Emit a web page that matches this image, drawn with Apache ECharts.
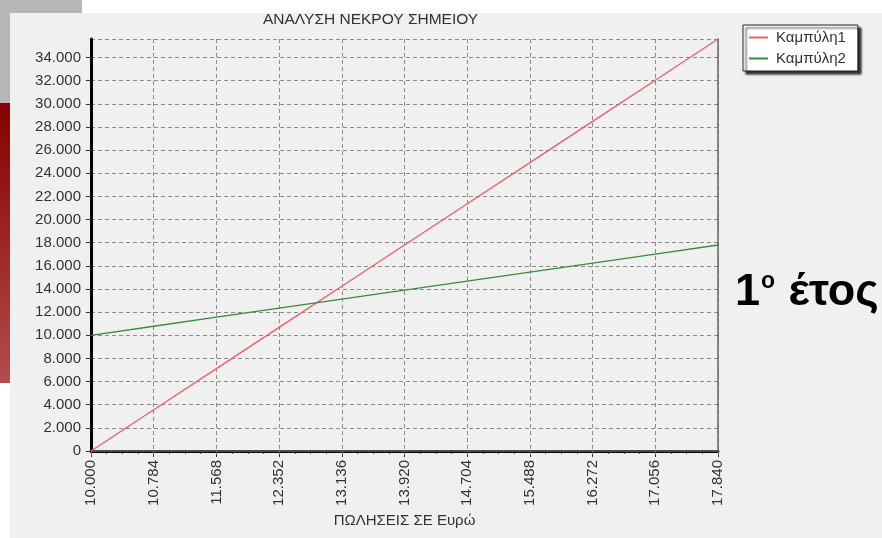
<!DOCTYPE html>
<html>
<head>
<meta charset="utf-8">
<script src="https://cdn.jsdelivr.net/npm/echarts@6/dist/echarts.min.js"></script>
<style>
  html, body { margin: 0; padding: 0; background: #fff; }
  #main { width: 882px; height: 538px; }
</style>
</head>
<body>
<div id="main"></div>
<script>
// πωλήσεις (ευρώ) στα σημεία του άξονα x
const sales = [10000, 10784, 11568, 12352, 13136, 13920, 14704, 15488, 16272, 17056, 17840];
// Καμπύλη1 (κόκκινη) και Καμπύλη2 (πράσινη)
const curve1 = [0, 3560, 7120, 10680, 14240, 17800, 21360, 24920, 28480, 32040, 35600];
const curve2 = [10000, 10780, 11560, 12340, 13120, 13900, 14680, 15460, 16240, 17020, 17800];
const seriesNames = ["Καμπύλη1", "Καμπύλη2"];

const xMin = 10000, xMax = 17840, xStep = 784;
const yMin = 0, yMax = 35600, yStep = 2000;

const font = "Liberation Sans";
// ελληνική μορφή: τελεία για χιλιάδες
const fmt = (v) => (v === 0 ? "0" : (v / 1000).toFixed(3));

let chart = echarts.init(document.getElementById("main"));

let gridDash = {
  show: true,
  lineStyle: { type: [4, 3], color: "#8c8c8c", width: 1 },
};

let option = {
  animation: false,
  backgroundColor: "#ffffff",
  textStyle: { fontFamily: font },
  graphic: [
    // γκρι κουτί πάνω αριστερά
    { type: "rect", z: -10, shape: { x: 0, y: 0, width: 82, height: 103 }, style: { fill: "#b6b6b6" } },
    // κόκκινη μπάρα αριστερά
    {
      type: "rect", z: -10,
      shape: { x: 0, y: 103, width: 10, height: 280 },
      style: {
        fill: new echarts.graphic.LinearGradient(0, 0, 0, 1, [
          { offset: 0, color: "#860000" },
          { offset: 1, color: "#b34d4d" },
        ]),
      },
    },
    // φόντο παραθύρου γραφήματος
    { type: "rect", z: -9, shape: { x: 10, y: 13, width: 872, height: 525 }, style: { fill: "#f0f0f0" } },
    {
      type: "text", left: 263, top: 12,
      style: { text: "ΑΝΑΛΥΣΗ ΝΕΚΡΟΥ ΣΗΜΕΙΟΥ", font: "15.5px " + font, fill: "#333" },
    },
    {
      type: "text", left: 735, top: 270,
      style: {
        text: "1{sup|ο} έτος",
        font: "bold 45px " + font,
        fill: "#000",
        rich: { sup: { font: "bold 23px " + font, verticalAlign: "top", padding: [0, 1, 17, 1] } },
      },
    },
  ],
  legend: {
    data: seriesNames,
    orient: "vertical",
    left: 743,
    top: 25,
    padding: [5, 12, 5, 6],
    itemGap: 6,
    itemWidth: 19,
    itemHeight: 2,
    icon: "rect",
    backgroundColor: "#ffffff",
    borderColor: "#222",
    borderWidth: 1,
    shadowColor: "rgba(0,0,0,0.8)",
    shadowBlur: 2,
    shadowOffsetX: 3,
    shadowOffsetY: 3,
    textStyle: { fontSize: 15, color: "#333", fontFamily: font, padding: [0, 0, 0, 3] },
  },
  grid: { left: 91, top: 39, right: 164, bottom: 87, show: true, backgroundColor: "#f0f0f0", borderWidth: 0 },
  xAxis: [
    {
      type: "value",
      min: xMin, max: xMax, interval: xStep,
      name: "ΠΩΛΗΣΕΙΣ ΣΕ Ευρώ",
      nameLocation: "middle",
      nameGap: 50,
      nameTextStyle: { fontSize: 15, color: "#333", fontFamily: font },
      axisLine: { show: true, onZero: false, lineStyle: { color: "#000", width: 3 } },
      axisTick: { show: true, length: 6, lineStyle: { color: "#333" } },
      minorTick: { show: true, splitNumber: 4, length: 3, lineStyle: { color: "#333" } },
      axisLabel: { rotate: 90, margin: 9, fontSize: 15, color: "#333", formatter: fmt },
      splitLine: gridDash,
    },
    {
      type: "value",
      position: "top",
      min: xMin, max: xMax, interval: xStep,
      axisLine: { show: true, lineStyle: { color: "#666", width: 1.5 } },
      axisTick: { show: true, inside: true, length: 4, lineStyle: { color: "#666" } },
      axisLabel: { show: false },
      splitLine: { show: false },
    },
  ],
  yAxis: [
    {
      type: "value",
      min: yMin, max: yMax, interval: yStep,
      axisLine: { show: true, onZero: false, lineStyle: { color: "#000", width: 3 } },
      axisTick: { show: true, length: 5, lineStyle: { color: "#333" } },
      axisLabel: { margin: 10, fontSize: 15, color: "#333", formatter: fmt, showMaxLabel: false },
      splitLine: gridDash,
    },
    {
      type: "value",
      position: "right",
      min: yMin, max: yMax, interval: yStep,
      axisLine: { show: true, lineStyle: { color: "#666", width: 1.5 } },
      axisTick: { show: false },
      axisLabel: { show: false },
      splitLine: { show: false },
    },
  ],
  series: [
    {
      name: seriesNames[0],
      type: "line",
      data: sales.map((s, i) => [s, curve1[i]]),
      showSymbol: false,
      color: "#f25a64",
      lineStyle: { width: 1.3 },
    },
    {
      name: seriesNames[1],
      type: "line",
      data: sales.map((s, i) => [s, curve2[i]]),
      showSymbol: false,
      color: "#3a8a3c",
      lineStyle: { width: 1.3 },
    },
  ],
};
chart.setOption(option);
</script>
</body>
</html>
